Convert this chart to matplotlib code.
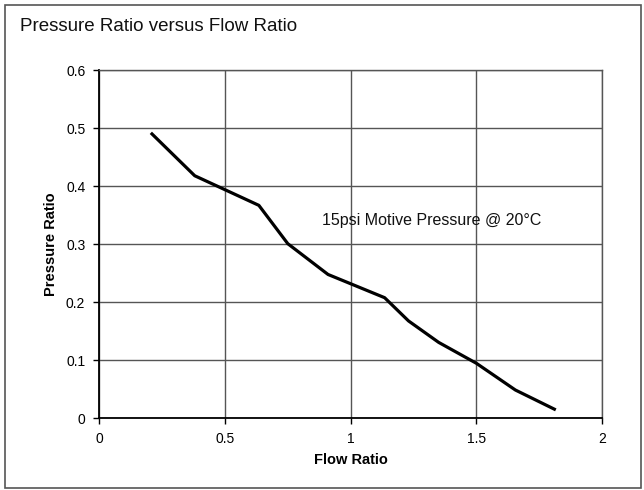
import matplotlib
matplotlib.use("Agg")
import matplotlib.pyplot as plt
from matplotlib.patches import Rectangle

# values
flow_ratio = [0.21, 0.38, 0.635, 0.75, 0.91, 1.135, 1.23, 1.35, 1.5, 1.655, 1.81]
pressure_ratio = [0.49, 0.418, 0.367, 0.301, 0.248, 0.208, 0.168, 0.131, 0.095, 0.049, 0.016]
x_ticks = [0, 0.5, 1, 1.5, 2]
x_tick_labels = ["0", "0.5", "1", "1.5", "2"]
y_ticks = [0, 0.1, 0.2, 0.3, 0.4, 0.5, 0.6]
y_tick_labels = ["0", "0.1", "0.2", "0.3", "0.4", "0.5", "0.6"]

plt.rcParams['font.family'] = ['Liberation Sans', 'DejaVu Sans']

fig = plt.figure(figsize=(6.44, 4.9), dpi=100)
ax = fig.add_axes([0.154, 0.146, 0.781, 0.711])

# outer frame around the whole chart
fig.patches.append(Rectangle((0.007, 0.004), 0.988, 0.986, transform=fig.transFigure,
                             fill=False, edgecolor='#555555', linewidth=1.2))

fig.text(0.031, 0.946, "Pressure Ratio versus Flow Ratio", fontsize=13.5,
         va='center', ha='left', color='#111111')

ax.plot(flow_ratio, pressure_ratio, color='black', linewidth=2.3, solid_joinstyle='round')

ax.set_xlim(0, 2)
ax.set_ylim(0, 0.6)
ax.set_xticks(x_ticks)
ax.set_xticklabels(x_tick_labels)
ax.set_yticks(y_ticks)
ax.set_yticklabels(y_tick_labels)
ax.tick_params(direction='out', length=4, width=1, labelsize=10, colors='black', pad=6)

ax.grid(True, color='#555555', linewidth=1)
ax.set_axisbelow(True)
for side in ['top', 'right']:
    ax.spines[side].set_color('#555555')
    ax.spines[side].set_linewidth(1)
for side in ['left', 'bottom']:
    ax.spines[side].set_color('black')
    ax.spines[side].set_linewidth(1.3)

ax.set_xlabel("Flow Ratio", fontsize=10.5, fontweight='bold', labelpad=5)
ax.set_ylabel("Pressure Ratio", fontsize=10.5, fontweight='bold', labelpad=6)

ax.text(0.885, 0.341, "15psi Motive Pressure @ 20°C", fontsize=11.5, ha='left',
        va='center', color='#111111')

fig.savefig("out.png", dpi=100)
